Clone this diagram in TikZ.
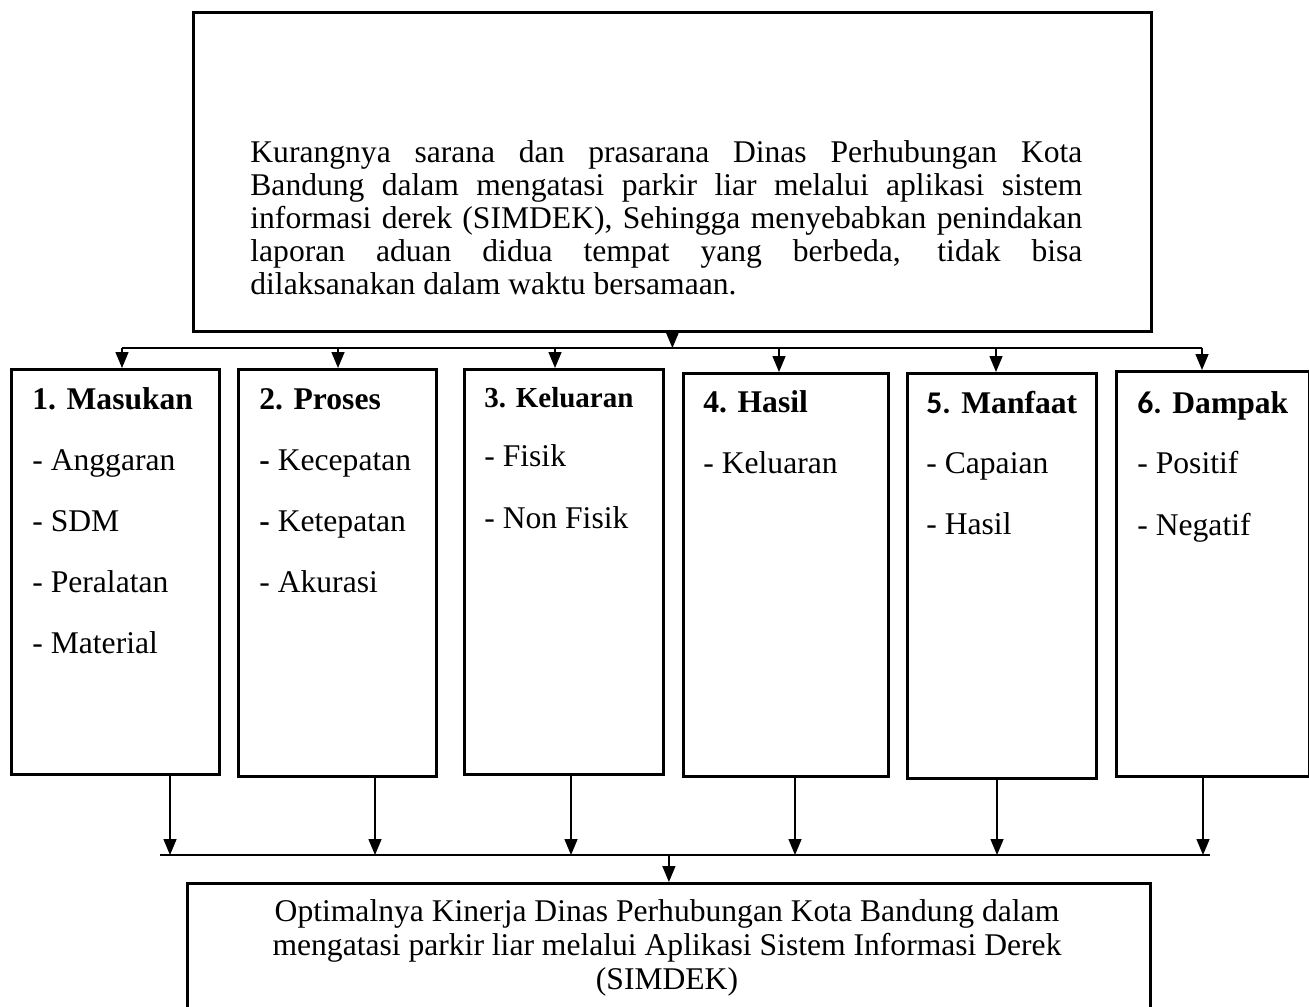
\documentclass[tikz,border=0pt]{standalone}
\usepackage{fontspec}
\setmainfont{Liberation Serif}
\newfontfamily\numfont{Carlito}
\usetikzlibrary{arrows.meta,positioning}

\tikzset{
  box/.style={draw, line width=1.4pt, inner sep=0pt, anchor=north west},
  conn/.style={line width=0.75pt},
  arr/.style={conn, -{Triangle[length=8pt,width=6.5pt]}},
  txt/.style={inner sep=0pt, anchor=base west, font=\fontsize{15.8}{17}\selectfont},
  head/.style={txt, font=\fontsize{15.8}{17}\selectfont\bfseries}
}

\begin{document}
\begin{tikzpicture}[x=0.5pt,y=-0.5pt]
				%%%%% START %%%%%
				\path[use as bounding box] (0,0) rectangle (1309,1006);
				\clip (0,0) rectangle (1309,1006);
				\def\busT{348}
				\def\busB{855}
				
				% masalah
				\node[box, minimum width=479pt, minimum height=159.5pt] (top) at (192,11) {};
				\node[txt, anchor=north west, text width=416pt, align=justify,
				      font=\fontsize{15.8}{16.5}\selectfont] (ttxt) at (250,140)
				  {\hyphenpenalty=10000 Kurangnya sarana dan prasarana Dinas Perhubungan Kota\linebreak
				   Bandung dalam mengatasi parkir liar melalui aplikasi sistem\linebreak
				   informasi derek (SIMDEK), Sehingga menyebabkan penindakan\linebreak
				   laporan aduan didua tempat yang berbeda, tidak bisa\linebreak
				   dilaksanakan dalam waktu bersamaan.};
				
				% enam indikator
				\node[box, minimum width=104pt, minimum height=202.5pt] (b1) at (10,368) {};
				\node[box, minimum width=99pt, minimum height=203.5pt] (b2) at (237,368) {};
				\node[box, minimum width=99.5pt, minimum height=202.5pt] (b3) at (463,368) {};
				\node[box, minimum width=102.5pt, minimum height=201.5pt] (b4) at (682,372) {};
				\node[box, minimum width=94.5pt, minimum height=202.5pt] (b5) at (906,372) {};
				\node[box, minimum width=96.5pt, minimum height=202.5pt] (b6) at (1115,370) {};
				
				\node[head] (h1) at (32,409) {1. Masukan};
				\node[head] (h2) at (259,409) {2. Proses};
				\node[head, font=\fontsize{14.5}{17}\selectfont\bfseries] (h3) at (484,407) {3. Keluaran};
				\node[head] (h4) at (703,412) {4. Hasil};
				\node[head] (h5) at (926,413) {{\numfont 5.} Manfaat};
				\node[head] (h6) at (1137,413) {{\numfont 6.} Dampak};
				
				\foreach \t [count=\i] in {- Anggaran, - SDM, - Peralatan, - Material}
				  \node[txt] (i1-\i) at (32,409+61*\i) {\t};
				\foreach \t [count=\i] in {\textbf{-} Kecepatan, \textbf{-} Ketepatan, - Akurasi}
				  \node[txt] (i2-\i) at (259,409+61*\i) {\t};
				\foreach \t [count=\i] in {- Fisik, - Non Fisik}
				  \node[txt] (i3-\i) at (484,404+62*\i) {\t};
				\node[txt] (i4-1) at (703,473) {- Keluaran};
				\foreach \t [count=\i] in {- Capaian, - Hasil}
				  \node[txt] (i5-\i) at (926,412+61*\i) {\t};
				\foreach \t [count=\i] in {- Positif, - Negatif}
				  \node[txt] (i6-\i) at (1137,411+62*\i) {\t};
				
				% tujuan
				\node[box, minimum width=481.5pt, minimum height=120pt] (bot) at (186,882) {};
				\node[txt, anchor=north, align=center] (btxt) at (667,899)
				  {Optimalnya Kinerja Dinas Perhubungan Kota Bandung dalam\\ mengatasi parkir liar melalui Aplikasi Sistem Informasi Derek\\ (SIMDEK)};
				
				% panah atas
				\coordinate (busT) at (0,\busT);
				\coordinate (busB) at (0,\busB);
				\draw[arr] (top.south) -- (top.south |- busT);
				\draw[conn] (122,0 |- busT) -- (1202,0 |- busT);
				\foreach \b/\x in {b1/122, b2/338, b3/555, b4/779, b5/996, b6/1202}
				  \draw[arr] (\x,0 |- busT) -- (\x,0 |- \b.north);
				
				% panah bawah
				\foreach \b/\x in {b1/170, b2/375, b3/571, b4/795, b5/997, b6/1203}
				  \draw[arr] (\x,0 |- \b.south) -- (\x,0 |- busB);
				\draw[conn] (160,0 |- busB) -- (1210,0 |- busB);
				\draw[arr] (bot.north |- busB) -- (bot.north);
				%%%%% END %%%%%
\end{tikzpicture}
\end{document}
